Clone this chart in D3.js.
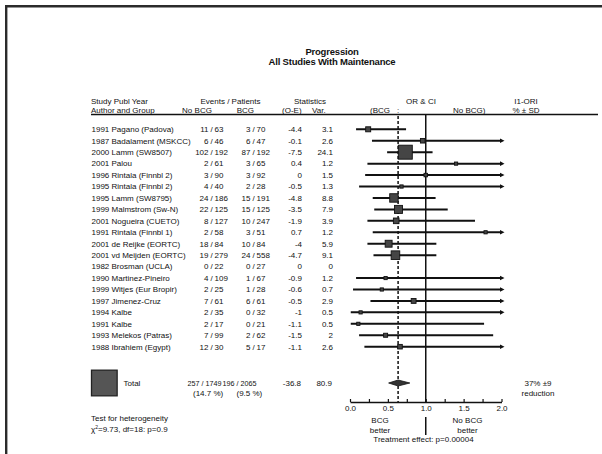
<!DOCTYPE html>
<html><head><meta charset="utf-8">
<script src="https://cdn.jsdelivr.net/npm/d3@7"></script>
<style>
html,body{margin:0;padding:0;background:#fff;}
svg{display:block;}
text{font-family:"Liberation Sans",Arial,Helvetica,sans-serif;fill:#111;}
</style></head>
<body>
<script>
// ---- data ----
const studies = ["1991 Pagano (Padova)","1987 Badalament (MSKCC)","2000 Lamm (SW8507)","2001 Palou",
  "1996 Rintala (Finnbl 2)","1995 Rintala (Finnbl 2)","1995 Lamm (SW8795)","1999 Malmstrom (Sw-N)",
  "2001 Nogueira (CUETO)","1991 Rintala (Finnbl 1)","2001 de Reijke (EORTC)","2001 vd Meijden (EORTC)",
  "1982 Brosman (UCLA)","1990 Martinez-Pineiro","1999 Witjes (Eur Bropir)","1997 Jimenez-Cruz",
  "1994 Kalbe","1991 Kalbe","1993 Melekos (Patras)","1988 Ibrahiem (Egypt)"];
const eventsNoBCG   = [11,6,102,2,3,4,24,22,8,2,18,19,0,4,2,7,2,2,7,12];
const patientsNoBCG = [63,46,192,61,90,40,186,125,127,58,84,279,22,109,25,61,35,17,99,30];
const eventsBCG     = [3,6,87,3,3,2,15,15,10,3,10,24,0,1,1,6,0,0,2,5];
const patientsBCG   = [70,47,192,65,92,28,191,125,247,51,84,558,27,67,28,61,32,21,62,17];
const oMinusE = [-4.4,-0.1,-7.5,0.4,0,-0.5,-4.8,-3.5,-1.9,0.7,-4,-4.7,0,-0.9,-0.6,-0.5,-1,-1.1,-1.5,-1.1];
const variance = [3.1,2.6,24.1,1.2,1.5,1.3,8.8,7.9,3.9,1.2,5.9,9.1,0,1.2,0.7,2.9,0.5,0.5,2,2.6];
const oddsRatio = [0.24,0.96,0.73,1.40,1.0,0.68,0.58,0.64,0.61,1.79,0.51,0.60,null,0.47,0.42,0.84,0.14,0.11,0.47,0.66];
const ciLow  = [0.08,0.29,0.49,0.23,0.20,0.12,0.30,0.32,0.23,0.30,0.23,0.31,null,0.08,0.04,0.27,0.01,0.01,0.12,0.19];
const ciHigh = [0.74,3.25,1.09,8.35,4.95,3.80,1.13,1.29,1.65,10.7,1.14,1.14,null,2.83,4.42,2.66,2.16,1.77,1.89,2.21];
const totalEvents = ["257 / 1749", "196 / 2065"];
const totalPct = ["(14.7 %)", "(9.5 %)"];
const totalOE = "-36.8", totalVar = 80.9;
const totalOR = 0.635, totalLo = 0.51, totalHi = 0.79;
const axisTicks = [0,0.25,0.5,0.75,1,1.25,1.5,1.75,2];
const axisLabels = ["0.0","","0.5","","1.0","","1.5","","2.0"];

// ---- drawing ----
const W = 602, H = 454;
const svg = d3.select("body").append("svg").attr("width", W).attr("height", H);
svg.append("rect").attr("width", W).attr("height", H).attr("fill", "#fff");
svg.append("path").attr("d", `M6.2,${H} V6.2 H${W}`).attr("fill","none")
  .attr("stroke","#2b2b2b").attr("stroke-width",2.4);

const fs = 8;
const x = d3.scaleLinear().domain([0, 2]).range([350, 501.5]);
const y = d3.scaleLinear().domain([0, studies.length - 1]).range([129.3, 346.7]);
const boxSize = d3.scaleSqrt().domain([0, 24.1]).range([0, 14]);

function txt(s, tx, ty, anchor, opts) {
  const t = svg.append("text").attr("x", tx).attr("y", ty)
    .attr("text-anchor", anchor || "start").attr("font-size", (opts && opts.size) || fs)
    .text(s);
  if (opts && opts.bold) t.attr("font-weight", "bold");
  return t;
}

// Title
txt("Progression", 332, 55, "middle", {size: 9.5, bold: true}).attr("letter-spacing", -0.2);
txt("All Studies With Maintenance", 332, 65, "middle", {size: 9.5, bold: true}).attr("letter-spacing", -0.2);

// Header
const h1 = 104, h2 = 112.5;
txt("Study Publ Year", 91, h1);
txt("Author and Group", 91, h2);
txt("Events / Patients", 230.5, h1, "middle");
txt("No BCG", 197, h2, "middle");
txt("BCG", 254, h2, "end");
txt("Statistics", 310, h1, "middle");
txt("(O-E)", 282, h2);
txt("Var.", 312, h2);
txt("OR & CI", 421, h1, "middle");
txt("(BCG", 370, h2);
txt(":", x(totalOR), h2, "middle");
txt("No BCG)", 453, h2);
txt("I1-ORI", 526, h1, "middle");
txt("% \u00b1 SD", 526, h2, "middle");
svg.append("line").attr("x1", 91).attr("x2", 598).attr("y1", 114.5).attr("y2", 114.5)
  .attr("stroke", "#111").attr("stroke-width", 1.5);

// Reference lines
const axisY = 402;
svg.append("line").attr("x1", x(1)).attr("x2", x(1)).attr("y1", 115).attr("y2", axisY)
  .attr("stroke", "#111").attr("stroke-width", 1.5);
svg.append("line").attr("x1", x(totalOR)).attr("x2", x(totalOR)).attr("y1", 116).attr("y2", axisY)
  .attr("stroke", "#111").attr("stroke-width", 1.5).attr("stroke-dasharray", "3,2");

// Rows
studies.forEach((s, i) => {
  const yy = y(i), ty = yy + 2.8;
  txt(s, 91.5, ty);
  txt(String(eventsNoBCG[i]), 208.5, ty, "end");
  txt("/", 211.5, ty, "middle");
  txt(String(patientsNoBCG[i]), 214.5, ty, "start");
  txt(String(eventsBCG[i]), 250.5, ty, "end");
  txt("/", 253.5, ty, "middle");
  txt(String(patientsBCG[i]), 256.5, ty, "start");
  txt(String(oMinusE[i]), 302, ty, "end");
  txt(String(variance[i]), 333, ty, "end");

  if (oddsRatio[i] == null) return;
  const lo = Math.max(ciLow[i], 0), hi = Math.min(ciHigh[i], 2);
  svg.append("line").attr("x1", x(lo)).attr("x2", x(hi)).attr("y1", yy).attr("y2", yy)
    .attr("stroke", "#111").attr("stroke-width", 2);
  if (ciHigh[i] > 2) {
    const xe = x(2);
    svg.append("path").attr("d", `M${xe-1.5},${yy-2.3} L${xe+3},${yy} L${xe-1.5},${yy+2.3} Z`)
      .attr("fill", "#111");
  }
  const b = Math.max(boxSize(variance[i]), 3.2);
  svg.append("rect").attr("x", x(oddsRatio[i]) - b/2).attr("y", yy - b/2)
    .attr("width", b).attr("height", b)
    .attr("fill", "#454545").attr("stroke", "#111").attr("stroke-width", 0.9);
});

// Total row
const ty0 = 383;
const tb = boxSize(totalVar);
svg.append("rect").attr("x", 91.5).attr("y", ty0 - tb/2).attr("width", tb).attr("height", tb)
  .attr("fill", "#555").attr("stroke", "#222").attr("stroke-width", 1.3);
txt("Total", 123.5, ty0 + 2.8);
txt(totalEvents[0], 187.5, ty0 + 2.8, "start", {size: 7.2});
txt(totalEvents[1], 222.5, ty0 + 2.8, "start", {size: 7.2});
txt(totalPct[0], 193, ty0 + 12.5);
txt(totalPct[1], 236.5, ty0 + 12.5);
txt(totalOE, 301, ty0 + 2.8, "end");
txt(String(totalVar), 332, ty0 + 2.8, "end");
svg.append("path")
  .attr("d", `M${x(totalLo)},${ty0} L${x(totalOR)},${ty0-3} L${x(totalHi)},${ty0} L${x(totalOR)},${ty0+3} Z`)
  .attr("fill", "#333").attr("stroke", "#111").attr("stroke-width", 0.8);
txt("37% \u00b19", 538, ty0 + 2.8, "middle");
txt("reduction", 538, ty0 + 12.5, "middle");

// Heterogeneity
txt("Test for heterogeneity", 91, 421);
const chi = txt("\u03c7", 91, 431.5);
chi.append("tspan").attr("dy", -3).attr("font-size", 5).text("2");
chi.append("tspan").attr("dy", 3).text("=9.73, df=18: p=0.9");

// Axis
const axis = d3.axisBottom(x).tickValues(axisTicks)
  .tickFormat((d, i) => axisLabels[i]).tickSize(-3).tickSizeOuter(0).tickPadding(3);
const ag = svg.append("g").attr("transform", `translate(0,${axisY})`).call(axis);
ag.select(".domain").attr("stroke", "#111").attr("stroke-width", 1.5);
ag.selectAll(".tick line").attr("stroke", "#111").attr("stroke-width", 1.2);
ag.selectAll(".tick text").attr("font-size", fs).attr("fill", "#111")
  .attr("font-family", '"Liberation Sans",Arial,sans-serif');

txt("BCG", 380, 423, "middle");
txt("better", 380, 432.5, "middle");
txt("No BCG", 467.5, 423, "middle");
txt("better", 467.5, 432.5, "middle");
svg.append("line").attr("x1", x(1)).attr("x2", x(1)).attr("y1", 417).attr("y2", 435)
  .attr("stroke", "#111").attr("stroke-width", 1.5);
txt("Treatment effect: p=0.00004", 423.5, 442, "middle");
</script>
</body></html>
